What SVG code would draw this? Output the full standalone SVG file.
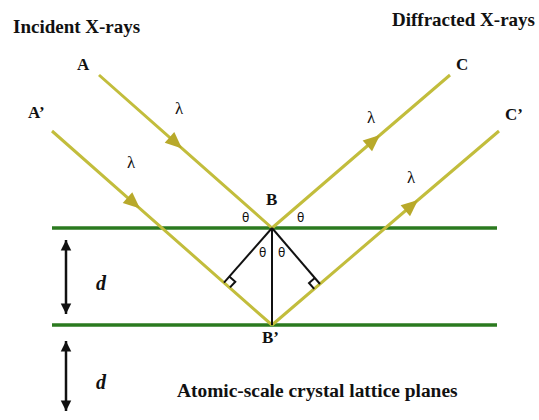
<svg xmlns="http://www.w3.org/2000/svg" width="539" height="420" viewBox="0 0 539 420">
<style>
.lbl{font-family:"Liberation Serif",serif;font-weight:bold;fill:#111}
.lam{font-family:"Liberation Serif",serif;font-size:17px;fill:#111}
.th{font-family:"DejaVu Sans","Liberation Sans",sans-serif;font-size:12px;fill:#111}
.d{font-family:"Liberation Serif",serif;font-weight:bold;font-style:italic;font-size:20px;fill:#111}
.ray{fill:none;stroke:#c2bd3c;stroke-width:3;marker-mid:url(#ah)}
.plane{stroke:#2b7a1f;stroke-width:3.5}
.blk{stroke:#111;stroke-width:2;fill:none}
.dim{stroke:#111;stroke-width:2.5;marker-start:url(#bh);marker-end:url(#bh)}
</style>
<defs>
<marker id="ah" markerUnits="userSpaceOnUse" markerWidth="20" markerHeight="20" refX="15" refY="0" viewBox="-1 -8 18 16" orient="auto" overflow="visible">
<path d="M0,-6.5 L15,0 L0,6.5 Z" fill="#b8a92a"/>
</marker>
<marker id="bh" markerUnits="userSpaceOnUse" markerWidth="14" markerHeight="14" refX="9" refY="0" viewBox="-1 -6 11 12" orient="auto-start-reverse" overflow="visible">
<path d="M0,-4.5 L9,0 L0,4.5 Z" fill="#111"/>
</marker>
</defs>
<rect width="539" height="420" fill="#fff"/>
<g id="planes">
<line class="plane" x1="52" y1="228" x2="497" y2="228"/>
<line class="plane" x1="52" y1="325" x2="497" y2="325"/>
</g>
<g id="connectors">
<path class="ray" d="M99,75 L182,148.4 L272,228"/>
<path class="ray" d="M52,131 L140,208.6 L272,325"/>
<path class="ray" d="M272,228 L380,135 L450,75"/>
<path class="ray" d="M272,325 L418,200 L499,131"/>
<line class="blk" x1="272" y1="228" x2="272" y2="325"/>
<line class="blk" x1="272" y1="228" x2="224" y2="282.6"/>
<line class="blk" x1="272" y1="228" x2="320" y2="284"/>
<path class="blk" d="M229.3,276.6 L235.3,281.8 L230,287.4" stroke-width="1.8"/>
<path class="blk" d="M314.8,277.9 L309,283 L314.2,288.8" stroke-width="1.8"/>
<line class="dim" x1="66" y1="240" x2="66" y2="314"/>
<line class="dim" x1="66" y1="341" x2="66" y2="411"/>
</g>
<g id="labels">
<text class="lbl" x="13" y="33" font-size="19">Incident X-rays</text>
<text class="lbl" x="392" y="26" font-size="19">Diffracted X-rays</text>
<text class="lbl" x="77" y="70" font-size="17">A</text>
<text class="lbl" x="28" y="118" font-size="17">A’</text>
<text class="lbl" x="456" y="70" font-size="17">C</text>
<text class="lbl" x="505" y="120" font-size="17">C’</text>
<text class="lbl" x="266" y="205" font-size="17">B</text>
<text class="lbl" x="262" y="343" font-size="17">B’</text>
<text class="lbl" x="177" y="397" font-size="19.4">Atomic-scale crystal lattice planes</text>
<text class="lam" x="175" y="114">λ</text>
<text class="lam" x="127" y="168">λ</text>
<text class="lam" x="367" y="123">λ</text>
<text class="lam" x="407" y="183">λ</text>
<text class="th" x="242" y="222">θ</text>
<text class="th" x="297" y="222">θ</text>
<text class="th" x="259" y="257">θ</text>
<text class="th" x="278" y="257">θ</text>
<text class="d" x="96" y="290">d</text>
<text class="d" x="96" y="389">d</text>
</g>
</svg>
